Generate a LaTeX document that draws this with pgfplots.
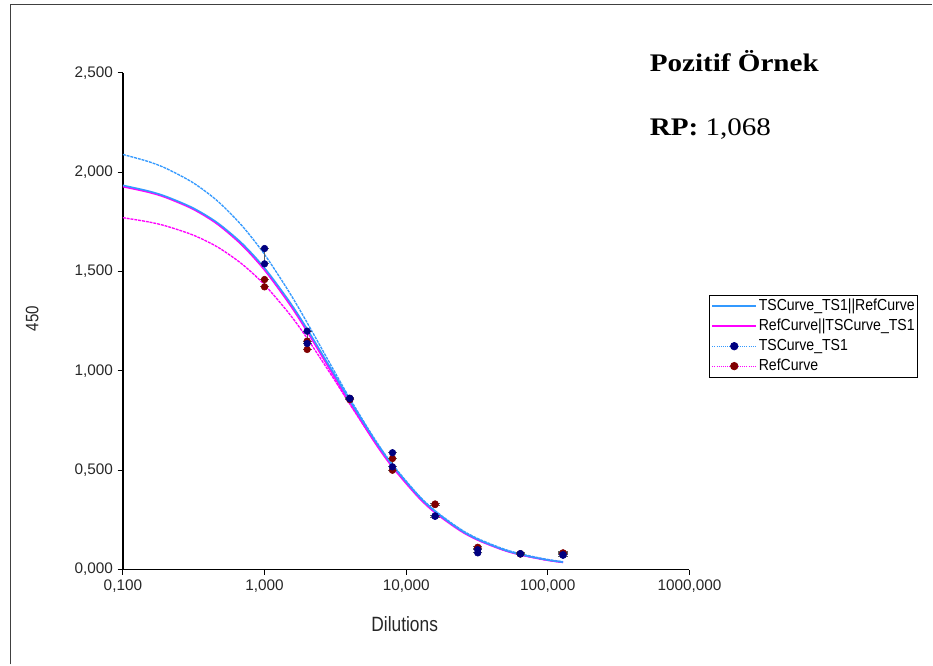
\documentclass[border=0pt]{standalone}
\usepackage{fontspec}
\setmainfont{Liberation Sans}
\newfontfamily\narrowsans[FakeStretch=0.88]{Liberation Sans}
\newfontfamily\labsans[FakeStretch=0.84]{Liberation Sans}
\newfontfamily\titleserif[FakeStretch=1.15]{Liberation Serif}
\usepackage{pgfplots}
\pgfplotsset{compat=1.18}
\definecolor{tsblue}{RGB}{51,153,255}
\definecolor{refmag}{RGB}{255,0,255}
\definecolor{tsnavy}{RGB}{0,0,128}
\definecolor{refred}{RGB}{128,0,0}
\definecolor{framegray}{RGB}{64,64,64}
\definecolor{errgray}{RGB}{95,95,95}

\begin{document}
\begin{tikzpicture}
% page = 933 x 665 px, 1px = 0.75pt, origin at the axis corner (123,570)
\path (-92.25pt,-71.25pt) rectangle (607.5pt,427.5pt);
\draw[framegray, line width=1.1pt] (-84.4pt,-71.25pt) -- (-84.4pt,424.1pt) -- (607.5pt,424.1pt);

\begin{axis}[
  at={(0pt,0pt)}, anchor=south west,
  scale only axis, width=425.25pt, height=372.75pt,
  xmode=log, xmin=0.1, xmax=1000, ymin=0, ymax=2.5,
  axis x line*=bottom, axis y line*=left,
  axis line style={black, line width=0.9pt},
  tick align=outside, major tick length=4pt,
  tick style={black, line width=0.8pt},
  xminorticks=false,
  xtick={0.1,1,10,100,1000},
  xticklabels={{0,100},{1,000},{10,000},{100,000},{1000,000}},
  ytick={0,0.5,1,1.5,2,2.5},
  yticklabels={{0,000},{0,500},{1,000},{1,500},{2,000},{2,500}},
  ticklabel style={font=\fontsize{11.5}{13}\selectfont, text=black!85},
  legend image code/.code={\draw[mark repeat=2,mark phase=2,#1] plot coordinates {(0pt,0pt) (16.5pt,0pt) (33pt,0pt)};},
  legend cell align=left,
  legend style={at={(1.0353,0.5533)}, anchor=north west, draw=black, line width=0.6pt,
    font=\narrowsans\fontsize{12}{14}\selectfont, inner xsep=1pt, inner ysep=2.6pt, row sep=3.35pt,
    nodes={inner xsep=1.1pt, inner ysep=0pt, text height=9pt, text depth=2.6pt}},
]
\addlegendimage{tsblue, line width=1.6pt}
\addlegendentry{TSCurve\_TS1||RefCurve}
\addlegendimage{refmag, line width=1.6pt}
\addlegendentry{RefCurve||TSCurve\_TS1}
\addlegendimage{tsblue, line width=0.6pt, densely dotted, mark=*, mark size=2.8pt, mark options={solid, fill=tsnavy, draw=tsnavy}}
\addlegendentry{TSCurve\_TS1}
\addlegendimage{refmag, line width=0.6pt, densely dotted, mark=*, mark size=2.8pt, mark options={solid, fill=refred, draw=refred}}
\addlegendentry{RefCurve}

% own fit, reference
\addplot[forget plot, refmag, line width=1pt, dash pattern=on 2.2pt off 0.7pt, smooth] coordinates {
(0.1,1.7713) (0.15,1.7507) (0.2,1.7301) (0.3,1.6891) (0.4,1.6490) (0.5,1.6100) (0.7,1.5356) (1,1.4334) (1.5,1.2865) (2,1.1638) (3,0.9730) (4,0.8327) (6,0.6421) (8,0.5199) (12,0.3736) (16,0.2898) (24,0.1983) (32,0.1497) (48,0.0995) (64,0.0740) (96,0.0485) (128,0.0358)};
% own fit, test
\addplot[forget plot, tsblue, line width=1pt, dash pattern=on 2.2pt off 0.7pt, smooth] coordinates {
(0.1,2.0895) (0.15,2.0547) (0.2,2.0207) (0.3,1.9553) (0.4,1.8934) (0.5,1.8350) (0.7,1.7274) (1,1.5863) (1.5,1.3943) (2,1.2424) (3,1.0182) (4,0.8612) (6,0.6565) (8,0.5295) (12,0.3805) (16,0.2963) (24,0.2048) (32,0.1560) (48,0.1054) (64,0.0793) (96,0.0529) (128,0.0396)};
% parallel fit, reference
\addplot[forget plot, refmag, line width=1.2pt, smooth] coordinates {
(0.1,1.9274) (0.15,1.9003) (0.2,1.8734) (0.3,1.8207) (0.4,1.7701) (0.5,1.7213) (0.7,1.6301) (1,1.5077) (1.5,1.3364) (2,1.1977) (3,0.9880) (4,0.8383) (6,0.6400) (8,0.5157) (12,0.3691) (16,0.2861) (24,0.1960) (32,0.1484) (48,0.0991) (64,0.0741) (96,0.0488) (128,0.0362)};
% parallel fit, test
\addplot[forget plot, tsblue, line width=1.2pt, smooth] coordinates {
(0.1,1.9340) (0.15,1.9060) (0.2,1.8790) (0.3,1.8265) (0.4,1.7765) (0.5,1.7285) (0.7,1.6390) (1,1.5180) (1.5,1.3485) (2,1.2105) (3,1.0010) (4,0.8510) (6,0.6512) (8,0.5255) (12,0.3768) (16,0.2924) (24,0.2006) (32,0.1519) (48,0.1015) (64,0.0759) (96,0.0500) (128,0.0371)};

% error bars (mean +- half range of the replicates)
\addplot[forget plot, draw=none, mark=none,
  error bars/.cd, y dir=both, y explicit,
  error bar style={errgray, line width=0.9pt},
  error mark options={errgray, rotate=90, mark size=3.5pt, line width=0.9pt}]
  coordinates {
(1,1.4415) +- (0,0.0185) (2,1.129) +- (0,0.021) (4,0.8585) +- (0,0.0035) (8,0.5295) +- (0,0.0295)
(16,0.3285) +- (0,0.005) (32,0.110) +- (0,0.006) (64,0.079) +- (0,0.004) (128,0.083) +- (0,0.005)};
\addplot[forget plot, draw=none, mark=none,
  error bars/.cd, y dir=both, y explicit,
  error bar style={errgray, line width=0.9pt},
  error mark options={errgray, rotate=90, mark size=3.5pt, line width=0.9pt}]
  coordinates {
(1,1.5775) +- (0,0.0385) (2,1.169) +- (0,0.031) (4,0.861) +- (0,0.006) (8,0.5525) +- (0,0.0355)
(16,0.269) +- (0,0.005) (32,0.092) +- (0,0.008) (64,0.0795) +- (0,0.004) (128,0.0735) +- (0,0.006)};

% replicates, reference
\addplot[forget plot, only marks, mark=*, mark size=2.5pt, mark options={fill=refred, draw=refred}] coordinates {
(1,1.460) (1,1.423) (2,1.150) (2,1.108) (4,0.862) (4,0.855) (8,0.559) (8,0.500)
(16,0.327) (16,0.330) (32,0.112) (32,0.108) (64,0.078) (64,0.080) (128,0.084) (128,0.082)};
% replicates, test
\addplot[forget plot, only marks, mark=*, mark size=2.5pt, mark options={fill=tsnavy, draw=tsnavy}] coordinates {
(1,1.616) (1,1.539) (2,1.200) (2,1.138) (4,0.860) (4,0.862) (8,0.588) (8,0.517)
(16,0.268) (16,0.270) (32,0.100) (32,0.084) (64,0.079) (64,0.080) (128,0.072) (128,0.075)};
\end{axis}

\node[anchor=base, inner sep=0pt, text=black!85] at (211.5pt,-46.3pt) {\labsans\fontsize{15.5}{18}\selectfont Dilutions};
\node[anchor=center, rotate=90, inner sep=0pt, text=black!85] at (-68.1pt,188.5pt) {\labsans\fontsize{13.5}{16}\selectfont 450};
\node[anchor=base west, inner sep=0pt] at (395.25pt,373.7pt) {\titleserif\fontsize{19}{23}\selectfont\textbf{Pozitif Örnek}};
\node[anchor=base west, inner sep=0pt] at (395.25pt,325.5pt) {\titleserif\fontsize{19}{23}\selectfont\textbf{RP:} 1,068};
\end{tikzpicture}
\end{document}
